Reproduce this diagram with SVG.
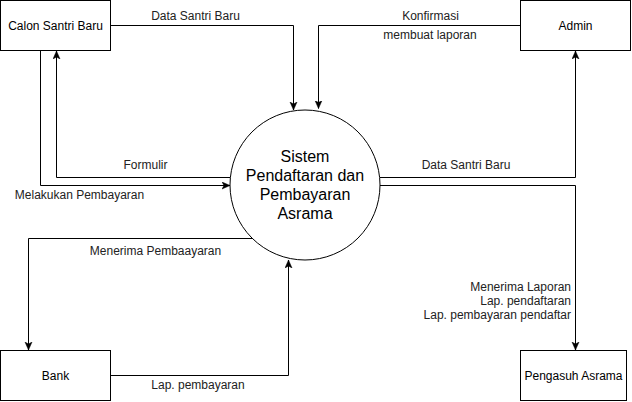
<svg xmlns="http://www.w3.org/2000/svg" width="632" height="402" viewBox="0 0 632 402">
<defs>
<style>
.box{fill:#fff;stroke:#000;stroke-width:1}
.lbl{font-family:"Liberation Sans",Arial,sans-serif;font-size:12px;fill:#000;text-anchor:middle}
.big{font-family:"Liberation Sans",Arial,sans-serif;font-size:16px;fill:#000;text-anchor:middle}
.el{font-family:"Liberation Sans",Arial,sans-serif;font-size:12px;fill:#222}
.edge{fill:none;stroke:#000;stroke-width:1}
</style>
<marker id="arr" markerWidth="10" markerHeight="10" refX="8" refY="4" orient="auto" markerUnits="userSpaceOnUse">
<path d="M0,0.5 L8,4 L0,7.5 L2,4 Z" fill="#000" stroke="#000" stroke-width="0.5"/>
</marker>
</defs>
<rect width="632" height="402" fill="#fff"/>
<g id="connectors">
<path class="edge" d="M110.5,25.5 H293.5 V110" marker-end="url(#arr)"/>
<path class="edge" d="M520.5,25.5 H318.5 V108.5" marker-end="url(#arr)"/>
<path class="edge" d="M230.5,177.5 H56.5 V51" marker-end="url(#arr)"/>
<path class="edge" d="M40.5,50.5 V185.5 H230" marker-end="url(#arr)"/>
<path class="edge" d="M380,177.5 H575.5 V51" marker-end="url(#arr)"/>
<path class="edge" d="M380,185.5 H575.5 V350" marker-end="url(#arr)"/>
<path class="edge" d="M252,238.5 H28.5 V350" marker-end="url(#arr)"/>
<path class="edge" d="M110.5,375.5 H288.5 V260" marker-end="url(#arr)"/>
<g id="edge-labels">
<text class="el" x="195.5" y="19.5" text-anchor="middle">Data Santri Baru</text>
<text class="el" x="430.5" y="19.5" text-anchor="middle">Konfirmasi</text>
<text class="el" x="430" y="38.5" text-anchor="middle">membuat laporan</text>
<text class="el" x="145.5" y="168.5" text-anchor="middle">Formulir</text>
<text class="el" x="79.5" y="199" text-anchor="middle">Melakukan Pembayaran</text>
<text class="el" x="466" y="169" text-anchor="middle">Data Santri Baru</text>
<text class="el" x="155.5" y="254.5" text-anchor="middle">Menerima Pembaayaran</text>
<text class="el" x="198" y="388.5" text-anchor="middle">Lap. pembayaran</text>
<text class="el" x="571" y="290.5" text-anchor="end">Menerima Laporan</text>
<text class="el" x="571" y="304.9" text-anchor="end">Lap. pendaftaran</text>
<text class="el" x="571" y="319.3" text-anchor="end">Lap. pembayaran pendaftar</text>
</g>
</g>
<g id="calon-santri-baru">
<rect class="box" x="0.5" y="0.5" width="110" height="50"/>
<text class="lbl" x="55.5" y="29.5">Calon Santri Baru</text>
</g>
<g id="admin">
<rect class="box" x="520.5" y="0.5" width="110" height="50"/>
<text class="lbl" x="575.5" y="29.5">Admin</text>
</g>
<g id="bank">
<rect class="box" x="0.5" y="350.5" width="110" height="50"/>
<text class="lbl" x="55.5" y="379.5">Bank</text>
</g>
<g id="pengasuh-asrama">
<rect class="box" x="520.5" y="350.5" width="106" height="50"/>
<text class="lbl" x="573.5" y="379.5">Pengasuh Asrama</text>
</g>
<g id="sistem">
<circle class="box" cx="305" cy="185" r="75"/>
<text class="big" x="305" y="162">Sistem</text>
<text class="big" x="305" y="181">Pendaftaran dan</text>
<text class="big" x="305" y="200">Pembayaran</text>
<text class="big" x="305" y="219">Asrama</text>
</g>
</svg>
